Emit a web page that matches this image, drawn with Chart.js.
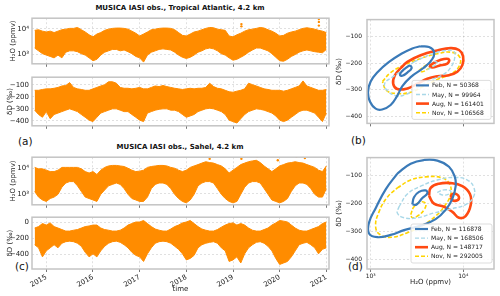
<!DOCTYPE html>
<html>
<head>
<meta charset="utf-8">
<script src="https://cdn.jsdelivr.net/npm/chart.js@4.4.0/dist/chart.umd.min.js"></script>
<style>
  body { margin: 0; width: 500px; height: 296px; background: #fff; position: relative; overflow: hidden; font-family: 'DejaVu Sans', sans-serif; }
  canvas { position: absolute; }
  .t { position: absolute; white-space: nowrap; line-height: 1; color: #111; }
  .ttl { font-size: 7px; font-weight: bold; width: 300px; text-align: center; }
  .pl { font-size: 10.5px; }
</style>
</head>
<body>
<div class="t ttl" style="left:30px;top:4.6px">MUSICA IASI obs., Tropical Atlantic, 4.2 km</div>
<div class="t ttl" style="left:30px;top:144px">MUSICA IASI obs., Sahel, 4.2 km</div>
<div class="t pl" style="left:18px;top:135.5px">(a)</div>
<div class="t pl" style="left:351px;top:134.5px">(b)</div>
<div class="t pl" style="left:15px;top:261px">(c)</div>
<div class="t pl" style="left:348px;top:260.5px">(d)</div>

<canvas id="a1" width="334" height="60" style="left:0;top:11px"></canvas>
<canvas id="a2" width="334" height="63" style="left:0;top:70px"></canvas>
<canvas id="c1" width="334" height="62" style="left:0;top:150px"></canvas>
<canvas id="c2" width="334" height="86" style="left:0;top:210px"></canvas>
<canvas id="b" width="168" height="121" style="left:332px;top:11px"></canvas>
<canvas id="d" width="168" height="140" style="left:332px;top:149px"></canvas>

<script>
// months of the time series (start of month)
const months = [
  '2014-10','2014-11','2014-12',
  '2015-01','2015-02','2015-03','2015-04','2015-05','2015-06','2015-07','2015-08','2015-09','2015-10','2015-11','2015-12',
  '2016-01','2016-02','2016-03','2016-04','2016-05','2016-06','2016-07','2016-08','2016-09','2016-10','2016-11','2016-12',
  '2017-01','2017-02','2017-03','2017-04','2017-05','2017-06','2017-07','2017-08','2017-09','2017-10','2017-11','2017-12',
  '2018-01','2018-02','2018-03','2018-04','2018-05','2018-06','2018-07','2018-08','2018-09','2018-10','2018-11','2018-12',
  '2019-01','2019-02','2019-03','2019-04','2019-05','2019-06','2019-07','2019-08','2019-09','2019-10','2019-11','2019-12',
  '2020-01','2020-02','2020-03','2020-04','2020-05','2020-06','2020-07','2020-08','2020-09','2020-10','2020-11','2020-12',
  '2021-01'
];

// Tropical Atlantic, H2O (ppmv): upper and lower edge of the point cloud
const atlH2oHigh = [8800, 9300, 8200,
  7600, 8200, 7200, 8200, 9300, 9800, 10500, 10500, 11400, 9300, 7600, 5900,
  4900, 6300, 7200, 8800, 9800, 10500, 10800, 10800, 10500, 9800, 8200, 6800,
  5300, 6300, 7600, 9300, 9800, 10500, 10800, 10800, 10500, 9300, 7200, 5600,
  5300, 6300, 7600, 8200, 9300, 10500, 11400, 11100, 9800, 9300, 8800, 5300,
  4900, 5900, 6800, 8200, 9300, 9800, 10500, 11400, 10800, 9300, 8200, 6800,
  5300, 5600, 6800, 7600, 8200, 9300, 10500, 11100, 10500, 9800, 8800, 8200,
  7200];
const atlH2oLow = [1790, 1390, 1080,
  950, 840, 740, 950, 740, 1230, 1390, 1390, 1290, 1080, 950, 740,
  570, 650, 950, 1230, 1390, 1580, 1580, 1390, 1500, 1290, 1080, 840,
  740, 505, 950, 1230, 1390, 1580, 1660, 1580, 1500, 1230, 950, 780,
  700, 780, 950, 1230, 1390, 1660, 1790, 1660, 1390, 1080, 950, 740,
  600, 650, 780, 950, 1230, 1500, 1790, 1790, 1580, 1390, 1080, 780,
  570, 545, 650, 840, 1000, 1230, 1390, 1500, 1390, 1290, 1230, 1170,
  1580];
const atlH2oOutliers = [[2019.18, 15400], [2019.18, 12600], [2020.84, 24300], [2020.84, 18800], [2020.84, 13500]];

// Tropical Atlantic, dD (permil)
const atlDdHigh = [-145, -145, -138,
  -133, -133, -128, -121, -109, -105, -81, -121, -133, -138, -145, -145,
  -133, -121, -109, -98, -74, -74, -86, -121, -128, -128, -133, -128,
  -121, -133, -133, -121, -109, -114, -105, -114, -121, -128, -133, -138,
  -133, -128, -133, -128, -128, -121, -86, -114, -128, -133, -145, -157,
  -161, -152, -145, -133, -86, -98, -109, -121, -133, -138, -145, -145,
  -145, -152, -145, -133, -121, -109, -67, -109, -121, -133, -145, -145,
  -138];
const atlDdLow = [-310, -346, -369,
  -322, -381, -346, -334, -322, -310, -299, -310, -322, -346, -369, -393,
  -405, -369, -334, -322, -310, -299, -299, -310, -322, -322, -346, -369,
  -393, -405, -334, -322, -310, -303, -299, -299, -310, -310, -322, -346,
  -369, -358, -346, -322, -310, -299, -294, -299, -310, -322, -346, -393,
  -405, -417, -381, -346, -322, -310, -299, -303, -310, -322, -334, -358,
  -393, -405, -393, -369, -346, -322, -310, -310, -322, -334, -369, -405,
  -334];

// Sahel, H2O (ppmv)
const sahH2oHigh = [10800, 9500, 9500,
  8400, 7400, 7400, 8400, 10800, 10800, 10800, 10800, 10800, 9500, 7400, 6500,
  7400, 5700, 8400, 10800, 12300, 12900, 12900, 12300, 11700, 10000, 8400, 7400,
  7700, 8400, 10800, 11700, 12300, 12900, 12900, 12300, 10800, 10000, 8400, 7400,
  8400, 10800, 12300, 13900, 15900, 18000, 16700, 15900, 13900, 12300, 9500, 6500,
  8400, 10800, 13900, 15900, 18000, 19400, 20500, 16700, 12300, 9500, 7400, 9500,
  12300, 13900, 15900, 16700, 18000, 16700, 15900, 13900, 12300, 10800, 8400, 7400,
  12300];
const sahH2oLow = [1230, 740, 570,
  500, 650, 740, 950, 1800, 2640, 3000, 3000, 2050, 1230, 740, 650,
  570, 500, 950, 1400, 2050, 2330, 2640, 2330, 1590, 950, 650, 570,
  500, 500, 740, 1590, 2330, 2640, 2640, 2330, 1590, 950, 650, 500,
  440, 570, 950, 2050, 2640, 3000, 3000, 2640, 1590, 950, 650, 500,
  440, 500, 950, 1800, 2640, 3000, 3000, 2640, 1590, 950, 570, 500,
  440, 500, 650, 1230, 2050, 2640, 2640, 2330, 1590, 950, 740, 740,
  1590];
const sahH2oOutliers = [[2018.5, 23300], [2019.18, 23300], [2019.52, 27800], [2019.96, 20500], [2020.36, 27800], [2020.54, 25100]];

// Sahel, dD (permil)
const sahDdHigh = [-75, -57, -19,
  -38, -11, -57, -75, -94, -113, -113, -102, -94, -75, -57, -49,
  -38, -38, -75, -94, -102, -113, -113, -102, -75, -38, -19, 0,
  0, 19, -19, -57, -87, -102, -113, -113, -87, -57, -38, -11,
  0, 19, -19, -57, -87, -102, -113, -113, -94, -64, -38, -19,
  -11, -38, -19, -38, -75, -102, -113, -113, -94, -75, -38, -11,
  19, 11, 0, -38, -75, -102, -113, -113, -94, -75, -57, -19,
  0];
const sahDdLow = [-283, -321, -434,
  -359, -321, -283, -321, -264, -245, -238, -245, -264, -302, -377, -434,
  -396, -434, -359, -302, -264, -245, -238, -253, -283, -321, -377, -415,
  -434, -491, -396, -321, -264, -245, -238, -245, -264, -302, -340, -396,
  -472, -453, -415, -321, -283, -264, -253, -245, -264, -321, -359, -491,
  -472, -434, -510, -396, -321, -283, -253, -245, -264, -302, -359, -453,
  -528, -510, -491, -434, -359, -283, -264, -253, -283, -321, -396, -340,
  -321];

const yearTicks = [2015, 2016, 2017, 2018, 2019, 2020, 2021];
const h2oTicks = [1000, 10000];
const h2oTickLabels = ['10³', '10⁴'];
const atlDdTicks = [-400, -300, -200, -100];
const sahDdTicks = [-400, -200, 0];
const contourDdTicks = [-400, -300, -200, -100];

// seasonal density contours, [H2O ppmv, dD permil]
const seasons = ['Feb', 'May', 'Aug', 'Nov'];
const countsAtl = [50368, 99964, 161401, 106568];
const countsSah = [116878, 168506, 148717, 292005];

const febOuterAtl = [[3467,-137],[4265,-140],[4830,-157],[4634,-185],[3767,-217],[2704,-253],[2198,-287],[1941,-323],[1644,-358],[1330,-375],[1132,-372],[984,-346],[936,-310],[1000,-270],[1200,-233],[1580,-196],[2109,-167],[2818,-145]];
const febInnerAtl = [[2660,-208],[2770,-219],[2489,-236],[2198,-248],[2070,-244],[2198,-230],[2448,-216]];
const mayOuterAtl = [[2937,-196],[4446,-168],[6455,-153],[7941,-157],[8100,-179],[7440,-213],[6193,-242],[4446,-264],[3191,-293],[2388,-319],[1862,-323],[1513,-304],[1415,-278],[1714,-253],[2198,-228]];
const mayInnerAtl = [[3767,-217],[4265,-202],[4900,-194],[5247,-200],[4700,-213],[4092,-224]];
const augOuterAtl = [[2109,-219],[2489,-196],[3467,-171],[5247,-153],[7310,-144],[8992,-151],[9950,-174],[9769,-208],[8627,-233],[7013,-246],[5247,-250],[4092,-259],[3191,-278],[2489,-296],[1941,-298],[1750,-278],[1820,-247]];
const augInnerAtl = [[4265,-210],[5034,-196],[6193,-185],[7013,-187],[6728,-202],[5469,-210],[4634,-217]];
const novOuterAtl = [[1340,-270],[1644,-236],[2291,-208],[3467,-183],[5247,-165],[7619,-160],[9180,-179],[8992,-213],[7310,-242],[5247,-262],[3767,-287],[2704,-310],[1941,-315],[1490,-304]];
const novInnerAtl = [[3326,-228],[3767,-213],[4380,-205],[4570,-211],[4160,-222],[3614,-233]];

const febOuterSah = [[1941,-94],[2704,-59],[3767,-46],[5247,-48],[7013,-70],[8100,-106],[8277,-139],[7619,-184],[6455,-223],[5034,-256],[3467,-279],[2291,-295],[1644,-312],[1180,-320],[960,-307],[960,-268],[1132,-217],[1452,-150]];
const febInnerSah = [[2818,-204],[2937,-178],[3326,-159],[3926,-154],[4092,-164],[3614,-181],[3130,-204]];
const mayOuterSah = [[2023,-212],[2489,-167],[3467,-139],[5247,-117],[7941,-108],[11070,-117],[13060,-145],[12840,-178],[10600,-204],[7310,-220],[4830,-234],[3191,-251],[2291,-251],[1941,-234]];
const mayInnerSah = [[5247,-161],[6193,-152],[7310,-156],[7013,-167],[5942,-170]];
const augOuterSah = [[4265,-173],[4446,-145],[5469,-130],[7310,-128],[9769,-139],[11800,-167],[12030,-206],[10600,-245],[8992,-251],[7619,-230],[6193,-212],[4830,-201]];
const augInnerSah = [[7310,-178],[7619,-167],[8450,-167],[8992,-178],[8627,-189],[7619,-189]];
const novOuterSah = [[1941,-145],[2704,-117],[3926,-106],[5701,-108],[7013,-128],[7310,-167],[6193,-212],[5034,-245],[3614,-279],[2489,-304],[1714,-320],[1282,-312],[1132,-284],[1230,-230],[1513,-178]];
const novInnerSah = [[2704,-240],[2937,-212],[3467,-195],[3926,-201],[3767,-223],[3191,-245],[2818,-251]];

// ---- drawing ----
Chart.defaults.font.family = "'DejaVu Sans', sans-serif";
Chart.defaults.color = '#222';

const orange = '#ff8c00';
const gridCol = 'rgba(0,0,0,0.12)';
const seasonStyle = [
  { color: '#3a7ab8', width: 2.2, dash: [] },
  { color: '#a9d8e8', width: 1.4, dash: [4, 2] },
  { color: '#ff4a12', width: 2.6, dash: [] },
  { color: '#ffd400', width: 1.6, dash: [4, 2] }
];

function monthPos(s) {
  const p = s.split('-');
  return +p[0] + (p[1] - 1) / 12;
}
function fixSize(n) {
  return s => { if (s.isHorizontal()) s.height = n; else s.width = n; };
}
function fixTicks(vals) {
  return s => { s.ticks = vals.map(v => ({ value: v })); };
}
const minus = v => String(v).replace('-', '−');

// grey frame round each plot
const framePlugin = {
  id: 'frame',
  afterDatasetsDraw(chart) {
    const a = chart.chartArea, ctx = chart.ctx;
    ctx.save();
    ctx.strokeStyle = '#c4c4c4';
    ctx.lineWidth = 1.5;
    ctx.strokeRect(a.left, a.top, a.right - a.left, a.bottom - a.top);
    ctx.restore();
  }
};

// legend box in the lower right corner
const boxLegend = {
  id: 'boxLegend',
  afterDraw(chart) {
    const o = chart.options.plugins.boxLegend;
    if (!o) return;
    const a = chart.chartArea, ctx = chart.ctx;
    const items = chart.data.datasets.filter(d => d.label);
    const w = o.w, h = 39;
    const x0 = a.right - o.right - w, y0 = a.bottom - o.bottom - h;
    ctx.save();
    ctx.fillStyle = 'rgba(255,255,255,0.85)';
    ctx.strokeStyle = '#d4d4d4';
    ctx.lineWidth = 0.8;
    ctx.beginPath();
    if (ctx.roundRect) ctx.roundRect(x0, y0, w, h, 2); else ctx.rect(x0, y0, w, h);
    ctx.fill();
    ctx.stroke();
    ctx.font = "6px 'DejaVu Sans'";
    ctx.textBaseline = 'middle';
    items.forEach((d, i) => {
      const y = y0 + 5 + i * 9.1;
      ctx.strokeStyle = d.borderColor;
      ctx.lineWidth = d.borderWidth;
      ctx.setLineDash(d.borderDash);
      ctx.beginPath();
      ctx.moveTo(x0 + 4, y);
      ctx.lineTo(x0 + 17, y);
      ctx.stroke();
      ctx.setLineDash([]);
      ctx.fillStyle = '#222';
      ctx.fillText(d.label, x0 + 20, y + 0.5);
    });
    ctx.restore();
  }
};

function timeChart(id, hi, lo, outliers, yScale, bottomAxis) {
  const pts = arr => months.map((m, i) => ({ x: monthPos(m), y: arr[i] }));
  const datasets = [
    { data: pts(hi), fill: '+1', backgroundColor: orange, borderColor: orange, borderWidth: 1, pointRadius: 0, tension: 0 },
    { data: pts(lo), fill: false, borderColor: orange, borderWidth: 1, pointRadius: 0, tension: 0 }
  ];
  if (outliers) {
    datasets.push({ data: outliers.map(p => ({ x: p[0], y: p[1] })), showLine: false, pointRadius: 1.2,
      pointBackgroundColor: orange, pointBorderWidth: 0 });
  }
  return new Chart(document.getElementById(id), {
    type: 'line',
    data: { datasets },
    options: {
      responsive: false, animation: false, devicePixelRatio: 1,
      layout: { padding: { top: 2, right: 5, bottom: 0, left: 0 } },
      plugins: { legend: { display: false }, tooltip: { enabled: false } },
      scales: {
        x: {
          type: 'linear', min: 2014.693, max: 2021.057,
          afterBuildTicks: fixTicks(yearTicks),
          afterFit: fixSize(bottomAxis ? 27 : 4),
          grid: { color: gridCol, tickLength: 3, tickColor: '#777', tickBorderDash: [] },
          border: { display: false, dash: [2, 2] },
          ticks: bottomAxis
            ? { display: true, autoSkip: false, minRotation: 30, maxRotation: 30, padding: 1, font: { size: 7 }, callback: v => String(v) }
            : { display: false },
          title: bottomAxis
            ? { display: true, text: 'time', font: { size: 7 }, padding: { top: 0, bottom: 2.7 } }
            : { display: false }
        },
        y: Object.assign({
          afterFit: fixSize(32),
          grid: { color: gridCol, drawTicks: false },
          border: { display: false, dash: [2, 2] }
        }, yScale)
      }
    },
    plugins: [framePlugin]
  });
}

const h2oAxis = (min, max) => ({
  type: 'logarithmic', min, max,
  afterBuildTicks: fixTicks(h2oTicks),
  ticks: { font: { size: 7 }, padding: 3, callback: (v, i) => h2oTickLabels[i] },
  title: { display: true, text: 'H₂O (ppmv)', font: { size: 7 }, padding: { top: 8.6, bottom: 0 } }
});
const ddAxis = (min, max, ticks) => ({
  type: 'linear', min, max,
  afterBuildTicks: fixTicks(ticks),
  ticks: { font: { size: 7 }, padding: 3, callback: v => minus(v) },
  title: { display: true, text: 'δD (‰)', font: { size: 7 }, padding: { top: 5.5, bottom: 0 } }
});

timeChart('a1', atlH2oHigh, atlH2oLow, atlH2oOutliers, h2oAxis(433, 26250), false);
timeChart('a2', atlDdHigh, atlDdLow, null, ddAxis(-440, -36, atlDdTicks), false);
timeChart('c1', sahH2oHigh, sahH2oLow, sahH2oOutliers, h2oAxis(369, 27100), false);
timeChart('c2', sahDdHigh, sahDdLow, null, ddAxis(-585, 60, sahDdTicks), true);

function contourChart(id, curves, counts, yMin, yMax, bottomAxis, legendPos) {
  const datasets = [];
  curves.forEach((pair, i) => {
    const st = seasonStyle[i];
    pair.forEach((pts, k) => {
      datasets.push({
        label: k === 0 ? seasons[i] + ', N = ' + counts[i] : undefined,
        data: pts.concat([pts[0]]).map(p => ({ x: p[0], y: p[1] })),
        showLine: true, fill: false, pointRadius: 0, tension: 0.45,
        borderColor: st.color, borderWidth: st.width, borderDash: st.dash
      });
    });
  });
  return new Chart(document.getElementById(id), {
    type: 'scatter',
    data: { datasets },
    options: {
      responsive: false, animation: false, devicePixelRatio: 1,
      layout: { padding: { top: 2, right: 6, bottom: 0, left: 0 } },
      plugins: { legend: { display: false }, tooltip: { enabled: false }, boxLegend: legendPos },
      scales: {
        x: {
          type: 'logarithmic', min: 912.7, max: 21470,
          afterBuildTicks: fixTicks(h2oTicks),
          afterFit: fixSize(bottomAxis ? 20 : 4),
          grid: { color: gridCol, tickLength: 3, tickColor: '#777', tickBorderDash: [] },
          border: { display: false, dash: [2, 2] },
          ticks: bottomAxis
            ? { display: true, maxRotation: 0, padding: 1, font: { size: 6 }, callback: (v, i) => h2oTickLabels[i] }
            : { display: false },
          title: bottomAxis
            ? { display: true, text: 'H₂O (ppmv)', font: { size: 7 }, padding: { top: 0, bottom: 2.7 } }
            : { display: false }
        },
        y: {
          type: 'linear', min: yMin, max: yMax,
          afterBuildTicks: fixTicks(contourDdTicks),
          afterFit: fixSize(35),
          grid: { color: gridCol, drawTicks: false },
          border: { display: false, dash: [2, 2] },
          ticks: { font: { size: 6 }, padding: 5, callback: v => minus(v) },
          title: { display: true, text: 'δD (‰)', font: { size: 7 }, padding: { top: 2.8, bottom: 0 } }
        }
      }
    },
    plugins: [framePlugin, boxLegend]
  });
}

contourChart('b', [[febOuterAtl, febInnerAtl], [mayOuterAtl, mayInnerAtl], [augOuterAtl, augInnerAtl], [novOuterAtl, novInnerAtl]],
  countsAtl, -427.5, -36.5, false, { right: 3, bottom: 4, w: 79 });
contourChart('d', [[febOuterSah, febInnerSah], [mayOuterSah, mayInnerSah], [augOuterSah, augInnerSah], [novOuterSah, novInnerSah]],
  countsSah, -433, -37.4, true, { right: 2, bottom: 6, w: 81 });
</script>
</body>
</html>
